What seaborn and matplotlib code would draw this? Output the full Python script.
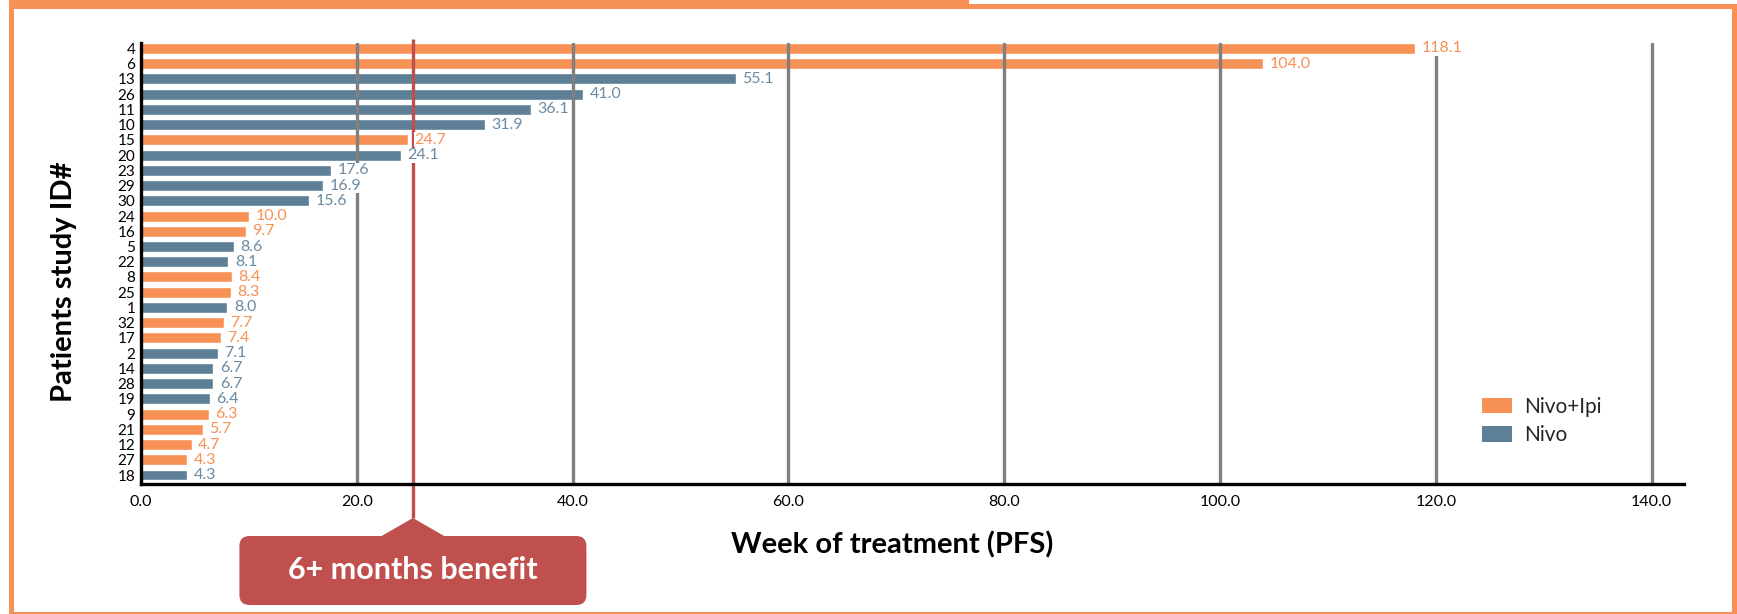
import matplotlib
matplotlib.use("Agg")
import matplotlib.pyplot as plt
import matplotlib.transforms as mtransforms
from matplotlib.patches import Rectangle, FancyBboxPatch, Polygon, Patch
import seaborn as sns
import pandas as pd

# Progression-free survival per patient, sorted as in the study listing
patient_ids = ["4", "6", "13", "26", "11", "10", "15", "20", "23", "29",
               "30", "24", "16", "5", "22", "8", "25", "1", "32", "17",
               "2", "14", "28", "19", "9", "21", "12", "27", "18"]
pfs_weeks = [118.1, 104.0, 55.1, 41.0, 36.1, 31.9, 24.7, 24.1, 17.6, 16.9,
             15.6, 10.0, 9.7, 8.6, 8.1, 8.4, 8.3, 8.0, 7.7, 7.4,
             7.1, 6.7, 6.7, 6.4, 6.3, 5.7, 4.7, 4.3, 4.3]
treatment_arm = ["Nivo+Ipi", "Nivo+Ipi", "Nivo", "Nivo", "Nivo", "Nivo", "Nivo+Ipi", "Nivo", "Nivo", "Nivo",
                 "Nivo", "Nivo+Ipi", "Nivo+Ipi", "Nivo", "Nivo", "Nivo+Ipi", "Nivo+Ipi", "Nivo", "Nivo+Ipi", "Nivo+Ipi",
                 "Nivo", "Nivo", "Nivo", "Nivo", "Nivo+Ipi", "Nivo+Ipi", "Nivo+Ipi", "Nivo+Ipi", "Nivo"]
arm_order = ["Nivo+Ipi", "Nivo"]
x_ticks = [0, 20, 40, 60, 80, 100, 120, 140]
benefit_week = 25.2
benefit_label = "6+ months benefit"

arm_colors = {"Nivo+Ipi": "#F79155", "Nivo": "#5E8097"}
label_colors = {"Nivo+Ipi": "#F79155", "Nivo": "#6A8AA2"}
ORANGE = "#F79155"
GRID = "#808080"
RED = "#C0504D"

sns.set_theme(style="white")
plt.rcParams["font.family"] = ["Lato", "DejaVu Sans"]

W, H = 1737, 614
fig = plt.figure(figsize=(W / 100, H / 100), dpi=100)
fig.patch.set_facecolor("white")
ax = fig.add_axes([141 / W, 1 - 484 / H, 1543 / W, 441 / H])

df = pd.DataFrame({"patient": patient_ids, "pfs": pfs_weeks, "arm": treatment_arm})
sns.barplot(data=df, y="patient", x="pfs", hue="arm", hue_order=arm_order,
            order=patient_ids, palette=arm_colors, dodge=False, width=0.72,
            orient="h", saturation=1, legend=False, ax=ax, zorder=1)

ax.set_xlim(0, 143)
ax.set_ylim(28.59, -0.36)
ax.set_xticks(x_ticks)
ax.set_xticklabels([f"{t:.1f}" for t in x_ticks], fontsize=11.5)
ax.tick_params(axis="y", labelsize=11, length=0, pad=4)
ax.tick_params(axis="x", length=0, pad=8)
for lbl in ax.get_yticklabels() + ax.get_xticklabels():
    lbl.set_color("black")
ax.set_xlabel("")
ax.set_ylabel("")
for side in ("top", "right"):
    ax.spines[side].set_visible(False)
for side in ("left", "bottom"):
    ax.spines[side].set_color("black")
    ax.spines[side].set_linewidth(2.4)
    ax.spines[side].set_zorder(6)

# vertical reference lines at each major tick, drawn over the bars
for t in x_ticks[1:]:
    ax.axvline(t, color=GRID, lw=2.4, zorder=2)

# value labels with a white backing
for i, (v, arm) in enumerate(zip(pfs_weeks, treatment_arm)):
    ax.text(v + 0.6, i, f"{v:.1f}", ha="left", va="center", fontsize=11.5,
            color=label_colors[arm], zorder=5,
            bbox=dict(facecolor="white", edgecolor="none", pad=0.4))

# six-month benefit marker
blend = mtransforms.blended_transform_factory(ax.transData, ax.transAxes)
ax.plot([benefit_week, benefit_week], [1.008, -0.077], transform=blend,
        color=RED, lw=2.4, clip_on=False, zorder=4, solid_capstyle="butt")

handles = [Patch(facecolor=arm_colors[a], edgecolor="none", label=a) for a in arm_order]
ax.legend(handles=handles, loc="center left", bbox_to_anchor=(0.857, 0.143),
          frameon=False, fontsize=15, handlelength=1.45, handleheight=0.8,
          handletextpad=0.55, labelspacing=0.4)

fig.text(892 / W, 1 - 545 / H, "Week of treatment (PFS)", ha="center", va="center",
         fontsize=21, fontweight="bold", color="black")
fig.text(64 / W, 1 - 282 / H, "Patients study ID#", ha="center", va="center",
         rotation=90, fontsize=21, fontweight="bold", color="black")

# callout box under the benefit marker (pixel coordinates, origin bottom-left)
px = mtransforms.IdentityTransform()
fig.canvas.draw()
x_red = ax.transData.transform((benefit_week, 0))[0]
box_w, box_h = 347, 69
box = FancyBboxPatch((x_red - box_w / 2, 9), box_w, box_h,
                     boxstyle="round,pad=0,rounding_size=10",
                     facecolor=RED, edgecolor="none", transform=px)
fig.add_artist(box)
tri = Polygon([(x_red - 33, 9 + box_h - 1), (x_red, 96), (x_red + 33, 9 + box_h - 1)],
              closed=True, facecolor=RED, edgecolor="none", transform=px)
fig.add_artist(tri)
fig.text(x_red, 44, benefit_label, transform=px, ha="center", va="center",
         color="white", fontsize=22, fontweight="bold")

# page frame
for (x0, y0, w, h) in [(9, 0, 5, H - 4),          # left
                       (W - 5, 0, 5, H - 4),      # right
                       (9, H - 9, W - 9, 5),      # top
                       (9, H - 4, 960, 4),        # top tab
                       (9, 0, W - 9, 2.5)]:       # bottom
    fig.add_artist(Rectangle((x0, y0), w, h, facecolor=ORANGE, edgecolor="none",
                             transform=px))

fig.savefig("out.png", dpi=100)
